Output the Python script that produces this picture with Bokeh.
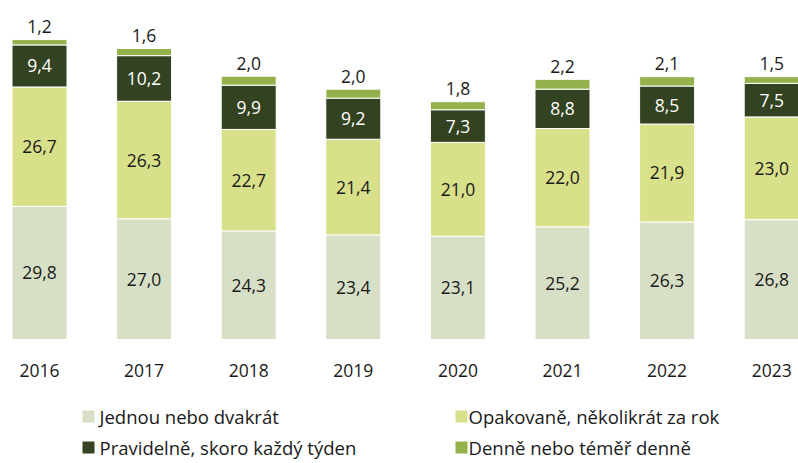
from bokeh.plotting import figure
from bokeh.models import ColumnDataSource, Range1d
from bokeh.core.properties import value
from bokeh.embed import file_html
from bokeh.resources import INLINE
import numpy as np

years = ["2016", "2017", "2018", "2019", "2020", "2021", "2022", "2023"]
series_names = ["Jednou nebo dvakrát", "Opakovaně, několikrát za rok",
                "Pravidelně, skoro každý týden", "Denně nebo téměř denně"]
jednou = [29.8, 27.0, 24.3, 23.4, 23.1, 25.2, 26.3, 26.8]
opakovane = [26.7, 26.3, 22.7, 21.4, 21.0, 22.0, 21.9, 23.0]
pravidelne = [9.4, 10.2, 9.9, 9.2, 7.3, 8.8, 8.5, 7.5]
denne = [1.2, 1.6, 2.0, 2.0, 1.8, 2.2, 2.1, 1.5]
colors = ["#D7E0C6", "#D8E08A", "#334220", "#94B14C"]
label_colors = ["#1a1a1a", "#1a1a1a", "#ffffff"]

W, H = 798, 463
PX_X = 104.6          # px per category step
X0 = 39               # px of first bar centre
PX_Y = 4.47           # px per unit
BASE = 339            # px from top of baseline

def dx(px):
    return (px - X0) / PX_X

def dy(px_from_top):
    return (BASE - px_from_top) / PX_Y

FONT = value("Open Sans")
FS = "17.5px"
FS_LEG = "18.5px"

p = figure(width=W, height=H, output_backend="svg", toolbar_location=None,
           x_range=Range1d(dx(0), dx(W)), y_range=Range1d(dy(H), dy(0)),
           min_border=0, outline_line_color=None)
p.axis.visible = False
p.grid.visible = False
p.background_fill_color = "white"
p.border_fill_color = "white"

xs = list(range(len(years)))
keys = ["jednou", "opakovane", "pravidelne", "denne"]
src = ColumnDataSource(dict(x=xs, jednou=jednou, opakovane=opakovane,
                            pravidelne=pravidelne, denne=denne))
p.vbar_stack(keys, x="x", width=55 / PX_X, color=colors, source=src,
             line_color="white", line_width=1)

vals = np.array([jednou, opakovane, pravidelne, denne])
cum = np.cumsum(vals, axis=0)
fmt = lambda v: f"{v:.1f}".replace(".", ",")

for k in range(3):
    mids = cum[k] - vals[k] / 2
    s = ColumnDataSource(dict(x=xs, y=list(mids), t=[fmt(v) for v in vals[k]]))
    p.text(x="x", y="y", text="t", source=s, text_align="center",
           text_baseline="middle", text_font=FONT, text_font_size=FS,
           text_color=label_colors[k])

top = ColumnDataSource(dict(x=xs, y=list(cum[3] + 13 / PX_Y),
                            t=[fmt(v) for v in denne]))
p.text(x="x", y="y", text="t", source=top, text_align="center",
       text_baseline="middle", text_font=FONT, text_font_size=FS,
       text_color="#1a1a1a")

yl = ColumnDataSource(dict(x=xs, y=[dy(370)] * len(xs), t=years))
p.text(x="x", y="y", text="t", source=yl, text_align="center",
       text_baseline="middle", text_font=FONT, text_font_size=FS,
       text_color="#1a1a1a")

# legend
leg_sq_x = [dx(88), dx(461), dx(88), dx(461)]
leg_tx_x = [dx(99), dx(468), dx(99), dx(468)]
leg_y = [dy(416), dy(416), dy(447), dy(447)]
leg = ColumnDataSource(dict(sx=leg_sq_x, tx=leg_tx_x, y=leg_y, c=colors, t=series_names))
p.rect(x="sx", y="y", width=12, height=12, width_units="screen",
       height_units="screen", fill_color="c", line_color=None, source=leg)
p.text(x="tx", y="y", text="t", source=leg, text_align="left",
       text_baseline="middle", text_font=FONT, text_font_size=FS_LEG,
       text_color="#1a1a1a")

open("out.html", "w").write(file_html(p, INLINE))
